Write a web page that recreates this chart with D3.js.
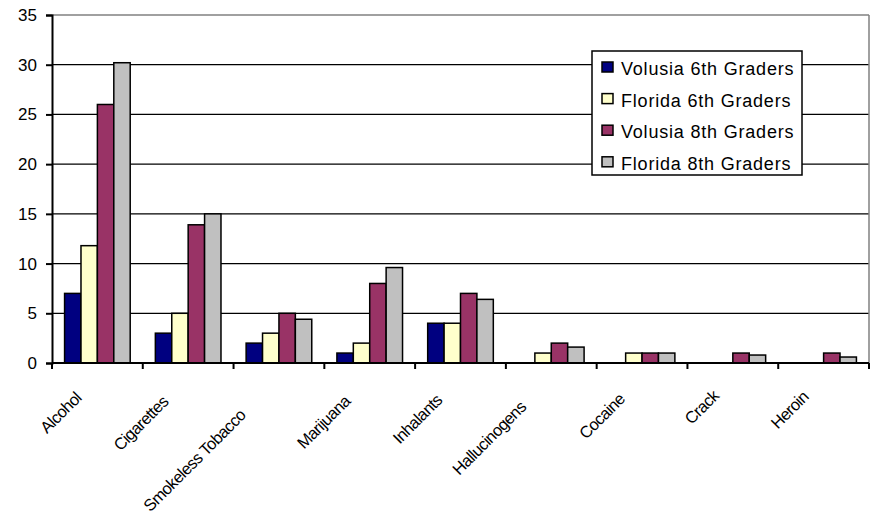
<!DOCTYPE html>
<html>
<head>
<meta charset="utf-8">
<script src="https://cdn.jsdelivr.net/npm/d3@7"></script>
<style>
  body { margin: 0; background: #fff; }
  svg { display: block; font-family: "Liberation Sans", Arial, sans-serif; }
</style>
</head>
<body>
<div id="chart"></div>
<script>
// data
const categories = ['Alcohol', 'Cigarettes', 'Smokeless Tobacco', 'Marijuana', 'Inhalants',
                    'Hallucinogens', 'Cocaine', 'Crack', 'Heroin'];
const seriesNames = ['Volusia 6th Graders', 'Florida 6th Graders', 'Volusia 8th Graders', 'Florida 8th Graders'];
const volusia6 = [7, 3, 2, 1, 4, 0, 0, 0, 0];
const florida6 = [11.8, 5, 3, 2, 4, 1, 1, 0, 0];
const volusia8 = [26, 13.9, 5, 8, 7, 2, 1, 1, 1];
const florida8 = [30.2, 15, 4.4, 9.6, 6.4, 1.6, 1, 0.8, 0.6];
const yTicks = [0, 5, 10, 15, 20, 25, 30, 35];
const colors = ['#000080', '#FFFFCC', '#993366', '#C0C0C0'];

const seriesValues = [volusia6, florida6, volusia8, florida8];

const width = 870, height = 519;
const plotLeft = 52, plotRight = 869, plotTop = 15, plotBottom = 363;

const svg = d3.select('#chart').append('svg')
    .attr('width', width)
    .attr('height', height);

svg.append('rect').attr('width', width).attr('height', height).attr('fill', '#fff');

let y = d3.scaleLinear().domain([0, 35]).range([plotBottom, plotTop]);
let x0 = d3.scaleBand().domain(categories).range([plotLeft, plotRight]).padding(0);
let groupW = x0.step() * 0.723;
let x1 = d3.scaleBand().domain(seriesNames).range([0, groupW]).padding(0);

// gridlines
svg.append('g')
    .selectAll('line')
    .data(yTicks.filter(t => t > 0 && t < 35))
    .enter().append('line')
    .attr('x1', plotLeft).attr('x2', plotRight)
    .attr('y1', d => y(d)).attr('y2', d => y(d))
    .attr('stroke', '#000').attr('stroke-width', 1.3);

// plot border top/right (gray)
svg.append('line').attr('x1', plotLeft).attr('x2', plotRight).attr('y1', y(35)).attr('y2', y(35))
    .attr('stroke', '#808080').attr('stroke-width', 1.5);
svg.append('line').attr('x1', plotRight).attr('x2', plotRight).attr('y1', y(35)).attr('y2', plotBottom)
    .attr('stroke', '#808080').attr('stroke-width', 1.5);

// bars
const groups = svg.append('g').selectAll('g')
    .data(categories)
    .enter().append('g')
    .attr('transform', d => `translate(${x0(d) + (x0.step() - groupW) / 2},0)`);

groups.selectAll('rect')
    .data((c, ci) => seriesNames.map((s, si) => ({s: s, si: si, v: seriesValues[si][ci]})).filter(d => d.v > 0))
    .enter().append('rect')
    .attr('x', d => x1(d.s))
    .attr('y', d => y(d.v))
    .attr('width', x1.bandwidth())
    .attr('height', d => y(0) - y(d.v))
    .attr('fill', d => colors[d.si])
    .attr('stroke', '#000')
    .attr('stroke-width', 1.5);

// y axis
const yAxis = d3.axisLeft(y).tickValues(yTicks).tickSize(6).tickPadding(9);
const gy = svg.append('g').attr('transform', `translate(${plotLeft},0)`).call(yAxis);
gy.select('.domain').attr('stroke', '#000').attr('stroke-width', 2);
gy.selectAll('.tick line').attr('stroke', '#000').attr('stroke-width', 2);
gy.selectAll('.tick text')
    .attr('font-size', 17)
    .attr('font-family', '"Liberation Sans", Arial, sans-serif')
    .attr('fill', '#000');

// x axis line + ticks at category boundaries
svg.append('line').attr('x1', plotLeft).attr('x2', plotRight).attr('y1', plotBottom).attr('y2', plotBottom)
    .attr('stroke', '#000').attr('stroke-width', 2);
svg.append('g').selectAll('line')
    .data(d3.range(categories.length + 1))
    .enter().append('line')
    .attr('x1', i => plotLeft + i * x0.step()).attr('x2', i => plotLeft + i * x0.step())
    .attr('y1', plotBottom).attr('y2', plotBottom + 6)
    .attr('stroke', '#000').attr('stroke-width', 2);

// category labels, rotated 45 degrees (longer labels sit further down-left)
svg.append('g').selectAll('text')
    .data(categories)
    .enter().append('text')
    .text(d => d)
    .attr('font-size', 16.5)
    .attr('letter-spacing', -0.6)
    .attr('text-anchor', 'end')
    .attr('fill', '#000')
    .each(function (d) {
        let L = this.getComputedTextLength();
        let cx = x0(d) + x0.step() / 2;
        let ax = cx - 5 - 0.2 * L;
        let ay = 389 + 0.2 * L;
        d3.select(this).attr('transform', `translate(${ax},${ay}) rotate(-45)`);
    });

// legend
const legend = svg.append('g');
legend.append('rect')
    .attr('x', 592).attr('y', 51).attr('width', 210).attr('height', 124)
    .attr('fill', '#fff').attr('stroke', '#000').attr('stroke-width', 1.5);

const items = legend.selectAll('g.item')
    .data(seriesNames)
    .enter().append('g')
    .attr('class', 'item')
    .attr('transform', (d, i) => `translate(602,${75 + i * 31.6})`);

items.append('rect')
    .attr('x', 0).attr('y', -13).attr('width', 11).attr('height', 10)
    .attr('fill', (d, i) => colors[i])
    .attr('stroke', '#000').attr('stroke-width', 1.5);

items.append('text')
    .attr('x', 19).attr('y', 0)
    .attr('font-size', 18)
    .attr('letter-spacing', 0.8)
    .attr('fill', '#000')
    .text(d => d);
</script>
</body>
</html>
